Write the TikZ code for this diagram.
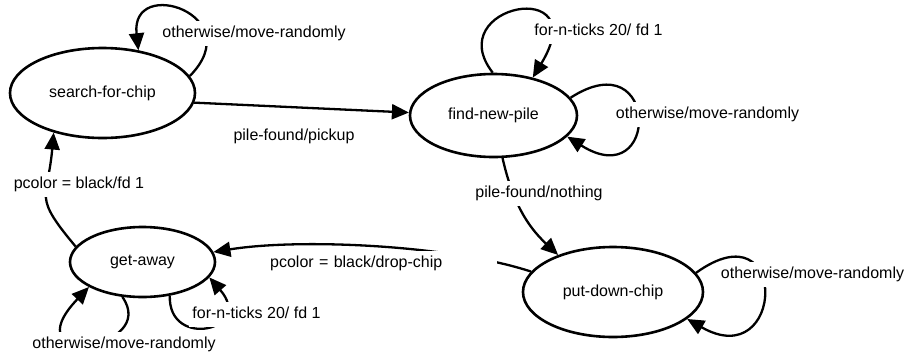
\documentclass[tikz,border=0pt]{standalone}
\usepackage{fontspec}
\setmainfont{Liberation Sans}
\usetikzlibrary{arrows.meta,shapes.geometric}
\begin{document}
\begin{tikzpicture}[x=1pt,y=-1pt,
  state/.style={ellipse,draw,line width=2.6pt,inner sep=0pt,font=\fontsize{16}{19}\selectfont},
  edge/.style={line width=2.3pt,-{Triangle[length=17pt,width=15pt]}},
  lbl/.style={fill=white,inner xsep=3pt,inner ysep=5pt,text height=11.5pt,text depth=3.5pt,font=\fontsize{16}{19}\selectfont}]
\useasboundingbox (0,0) rectangle (906,354);
\fill[white] (0,0) rectangle (906,354);
% states
\node[state,minimum width=185pt,minimum height=90pt] (s) at (102.5,93) {search-for-chip};
\node[state,minimum width=167pt,minimum height=83pt] (f) at (493.5,115.5) {find-new-pile};
\node[state,minimum width=145pt,minimum height=70pt] (g) at (142.5,262) {get-away};
\node[state,minimum width=180pt,minimum height=90pt] (p) at (613,292) {put-down-chip};
% transitions
\draw[edge] (s.-6) -- (f.178);
\draw[edge] (f.-78) to[bend right=17] (p.146);
\draw[edge] (g.167) to[out=130,in=-95,looseness=1.5] (s.-141);
\draw[edge] (p.166) .. controls (450,245) and (300,238) .. (g.8);
% self loops
\draw[edge] (s.11) .. controls (250,15) and (130,-25) .. (s.50);
\draw[edge] (f.91) .. controls (440,5) and (595,-25) .. (f.44);
\draw[edge] (f.13) .. controls (660,40) and (660,195) .. (f.-16);
\draw[edge] (p.13) .. controls (790,205) and (785,375) .. (p.-20);
\draw[edge] (g.-120) .. controls (160,350) and (10,370) .. (g.-155);
\draw[edge] (g.-51) .. controls (168,350) and (255,330) .. (g.-13);
% labels
\node[lbl] (l1) at (254,33) {otherwise/move-randomly};
\node[lbl] (l2) at (294,136) {pile-found/pickup};
\node[lbl] (l3) at (598.5,31) {for-n-ticks 20/ fd 1};
\node[lbl] (l4) at (707.5,114) {otherwise/move-randomly};
\node[lbl] (l5) at (539,193) {pile-found/nothing};
\node[lbl] (l6) at (79,184) {pcolor = black/fd 1};
\node[lbl,anchor=west,text width=224pt,align=left] (l7) at (267,263.5) {pcolor = black/drop-chip};
\node[lbl] (l8) at (256.5,314) {for-n-ticks 20/ fd 1};
\node[lbl] (l9) at (124,344) {otherwise/move-randomly};
\node[lbl] (l10) at (812.5,274) {otherwise/move-randomly};
\end{tikzpicture}
\end{document}
